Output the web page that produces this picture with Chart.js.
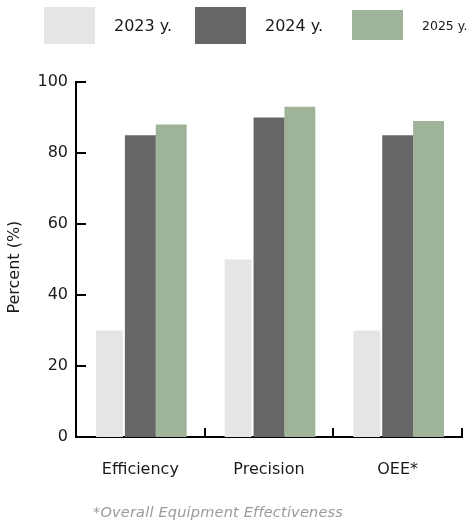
<!DOCTYPE html>
<html>
<head>
<meta charset="utf-8">
<script src="https://cdn.jsdelivr.net/npm/chart.js@4.4.1/dist/chart.umd.min.js"></script>
<style>
  html, body { margin: 0; padding: 0; background: #fff; }
  #wrap { position: relative; width: 473px; height: 525px; overflow: hidden; font-family: "DejaVu Sans", sans-serif; }
  #chart { position: absolute; left: 0; top: 0; }
  .lg-box { position: absolute; }
  .lg-text { position: absolute; color: #1a1a1a; white-space: nowrap; line-height: 1; }
  #note { position: absolute; left: 0; width: 436px; top: 504px; text-align: center; font-style: italic; font-size: 14.5px; letter-spacing: 0.2px; color: #9a9a9a; white-space: nowrap; }
</style>
</head>
<body>
<div id="wrap">
  <canvas id="chart" width="473" height="525"></canvas>
  <div id="legend"></div>
  <div id="note">*Overall Equipment Effectiveness</div>
</div>
<script>
// Categories, series and tick labels
const categories = ["Efficiency", "Precision", "OEE*"];
const seriesNames = ["2023 y.", "2024 y.", "2025 y."];
const values2023 = [30, 50, 30];
const values2024 = [85, 90, 85];
const values2025 = [88, 93, 89];
const yTicks = [0, 20, 40, 60, 80, 100];

const colors = ["#e5e5e5", "#666666", "#9fb39a"];

// HTML legend, one swatch and label per series
const legendLayout = [
  { box: [44, 7, 51, 37], text: [114, 18, 16] },
  { box: [195, 7, 51, 37], text: [265, 18, 16] },
  { box: [352, 10, 51, 30], text: [422, 20, 12.5] }
];
const legendEl = document.getElementById("legend");
seriesNames.forEach((name, i) => {
  const L = legendLayout[i];
  const b = document.createElement("div");
  b.className = "lg-box";
  b.style.cssText = `left:${L.box[0]}px;top:${L.box[1]}px;width:${L.box[2]}px;height:${L.box[3]}px;background:${colors[i]}`;
  legendEl.appendChild(b);
  const t = document.createElement("div");
  t.className = "lg-text";
  t.style.cssText = `left:${L.text[0]}px;top:${L.text[1]}px;font-size:${L.text[2]}px`;
  t.textContent = name;
  legendEl.appendChild(t);
});

// Short tick marks pointing into the plot area
const innerTicks = {
  id: "innerTicks",
  afterDraw(chart) {
    const { ctx, chartArea, scales } = chart;
    const y = scales.y, x = scales.x;
    ctx.save();
    ctx.strokeStyle = "#000";
    ctx.lineWidth = 2;
    ctx.beginPath();
    yTicks.forEach(v => {
      if (v === 0) return;
      const py = Math.round(y.getPixelForValue(v));
      ctx.moveTo(chartArea.left, py);
      ctx.lineTo(chartArea.left + 10, py);
    });
    const half = (x.getPixelForValue(1) - x.getPixelForValue(0)) / 2;
    categories.forEach((c, i) => {
      const px = Math.round(x.getPixelForValue(i) + half);
      ctx.moveTo(px, chartArea.bottom);
      ctx.lineTo(px, chartArea.bottom - 9);
    });
    ctx.stroke();
    ctx.restore();
  }
};

const font = { family: "'DejaVu Sans', sans-serif", size: 16 };

new Chart(document.getElementById("chart"), {
  type: "bar",
  data: {
    labels: categories,
    datasets: [
      { label: seriesNames[0], data: values2023, backgroundColor: colors[0], barPercentage: 0.87 },
      { label: seriesNames[1], data: values2024, backgroundColor: colors[1], barPercentage: 1 },
      { label: seriesNames[2], data: values2025, backgroundColor: colors[2], barPercentage: 1 }
    ]
  },
  options: {
    responsive: false,
    animation: false,
    events: [],
    layout: { padding: { top: 82, right: 11, bottom: 0, left: 0 } },
    datasets: { bar: { categoryPercentage: 0.72, borderWidth: 0 } },
    plugins: { legend: { display: false }, tooltip: { enabled: false } },
    scales: {
      x: {
        grid: { display: false },
        border: { display: true, color: "#000", width: 2 },
        ticks: { color: "#1a1a1a", font: font, padding: 15, maxRotation: 0 },
        afterFit(s) { s.height = 88; }
      },
      y: {
        min: 0, max: 100,
        afterBuildTicks(s) { s.ticks = yTicks.map(v => ({ value: v })); },
        grid: { display: false, drawTicks: false },
        border: { display: true, color: "#000", width: 2 },
        ticks: { color: "#1a1a1a", font: font, padding: 8 },
        title: { display: true, text: "Percent (%)   ", color: "#1a1a1a", font: font, padding: { top: 5, bottom: 0 } },
        afterFit(s) { s.width = 76; }
      }
    }
  },
  plugins: [innerTicks]
});
</script>
</body>
</html>
